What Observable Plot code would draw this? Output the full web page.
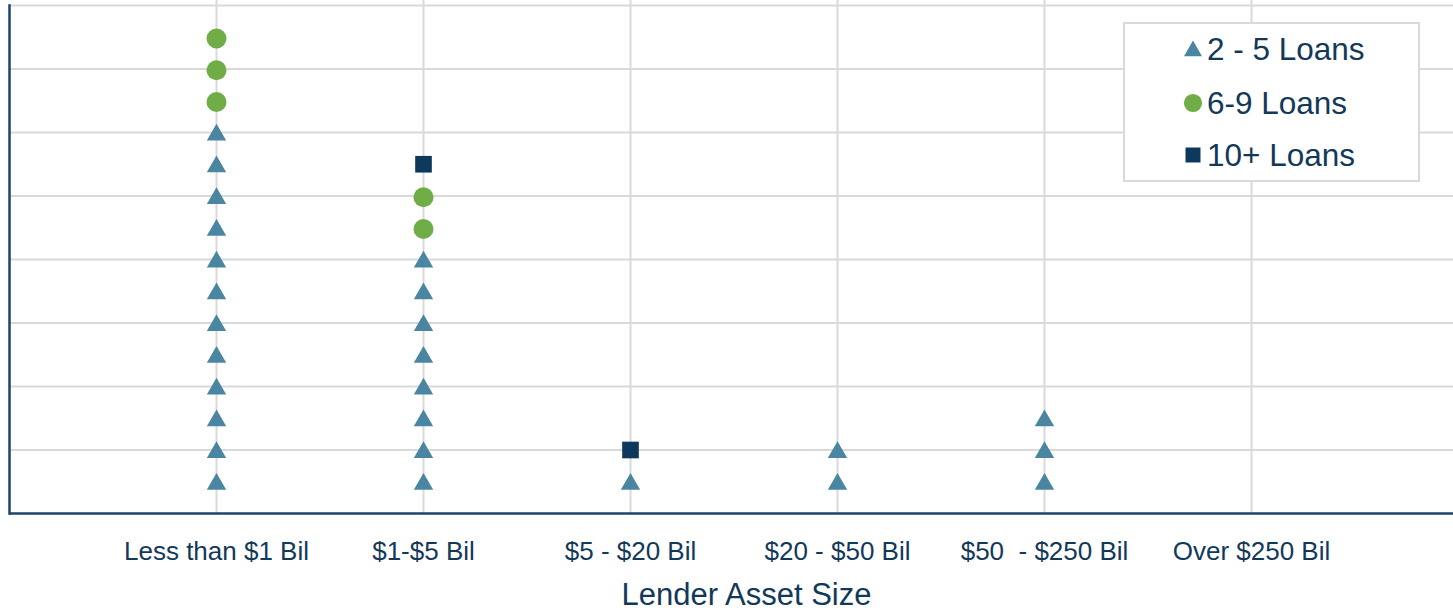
<!DOCTYPE html>
<html><head><meta charset="utf-8">
<script src="https://cdn.jsdelivr.net/npm/d3@7"></script>
<script src="https://cdn.jsdelivr.net/npm/@observablehq/plot@0.6"></script>
<style>
html,body{margin:0;padding:0;background:#fff;}
#wrap{position:relative;width:1453px;height:614px;overflow:hidden;}
#legend{position:absolute;left:1123px;top:22px;width:293px;height:156px;border:2px solid #d9d9d9;background:#fff;font-family:"Liberation Sans",Arial,sans-serif;font-size:31.5px;color:#12395a;}
.item{position:absolute;left:57px;height:30px;display:flex;align-items:center;line-height:30px;white-space:nowrap;}
.item svg{margin-right:3px;display:block;}
</style></head>
<body><div id="wrap"><div id="chart"></div><div id="legend"></div></div>
<script>
// ---- data ----
const categories = ["Less than $1 Bil", "$1-$5 Bil", "$5 - $20 Bil", "$20 - $50 Bil", "$50  - $250 Bil", "Over $250 Bil"];
const seriesNames = ["2 - 5 Loans", "6-9 Loans", "10+ Loans"];
const loans2to5 = [12, 8, 1, 2, 3, 0];
const loans6to9 = [3, 2, 0, 0, 0, 0];
const loans10plus = [0, 1, 1, 0, 0, 0];
const yGrid = [1, 2, 3, 4, 5, 6, 7, 8];
const axisTitle = "Lender Asset Size";

// ---- styles ----
const colors = ["#4a86a1", "#70ad47", "#0d3a5c"];
const symbols = ["triangle", "circle", "square"];
const radii = [7.2, 10, 9.4];
const dys = [2.5, 1.2, 0];
const textColor = "#12395a";
const axisColor = "#1b4468";
const gridColor = "#d9d9d9";

// expand counts into stacked dots (each dot occupies half a unit)
const seriesValues = [loans2to5, loans6to9, loans10plus];
const rows = [];
categories.forEach((c, i) => {
  let k = 0;
  seriesValues.forEach((arr, s) => {
    for (let j = 0; j < arr[i]; j++) { k++; rows.push({category: c, series: seriesNames[s], level: k * 0.5}); }
  });
});

const dotMarks = seriesNames.map((name, s) =>
  Plot.dot(rows.filter(d => d.series === name), {
    x: "category", y: "level", symbol: symbols[s], r: radii[s], fill: colors[s], dy: dys[s]
  })
);

const chart = Plot.plot({
  width: 1453, height: 614,
  marginLeft: 9, marginRight: 0, marginTop: 5, marginBottom: 101,
  style: {fontFamily: "'Liberation Sans', Arial, sans-serif", color: textColor, background: "white", overflow: "visible"},
  x: {type: "point", domain: categories, padding: 1, range: [9, 1458]},
  y: {domain: [0, 8], axis: null},
  marks: [
    Plot.ruleY(yGrid, {stroke: gridColor, strokeWidth: 2}),
    Plot.ruleX(categories, {stroke: gridColor, strokeWidth: 2, insetTop: -5}),
    ...dotMarks,
    Plot.ruleY([0], {stroke: axisColor, strokeWidth: 2.5}),
    Plot.frame({anchor: "left", stroke: axisColor, strokeWidth: 2.5}),
    Plot.axisX({tickSize: 0, tickPadding: 28, fontSize: 26, label: null, fill: textColor}),
    Plot.text([axisTitle], {frameAnchor: "bottom", dx: 15, dy: 69, lineAnchor: "top", fontSize: 31, fill: textColor})
  ]
});
d3.select(chart).selectAll("text").style("white-space", "pre");
document.getElementById("chart").appendChild(chart);

// ---- legend ----
const legend = d3.select("#legend");
const rowCenters = [25, 79, 131];
seriesNames.forEach((name, s) => {
  const item = legend.append("div").attr("class", "item").style("top", (rowCenters[s] - 15) + "px");
  const svg = item.append("svg").attr("width", 22).attr("height", 22);
  const sym = d3.symbol().type(s === 0 ? d3.symbolTriangle : s === 1 ? d3.symbolCircle : d3.symbolSquare)
    .size(s === 0 ? 140 : s === 1 ? 260 : 225);
  svg.append("path").attr("d", sym()).attr("transform", `translate(11,${s === 0 ? 13 : 11})`).attr("fill", colors[s]);
  item.append("span").text(name);
});
</script>
</body></html>
